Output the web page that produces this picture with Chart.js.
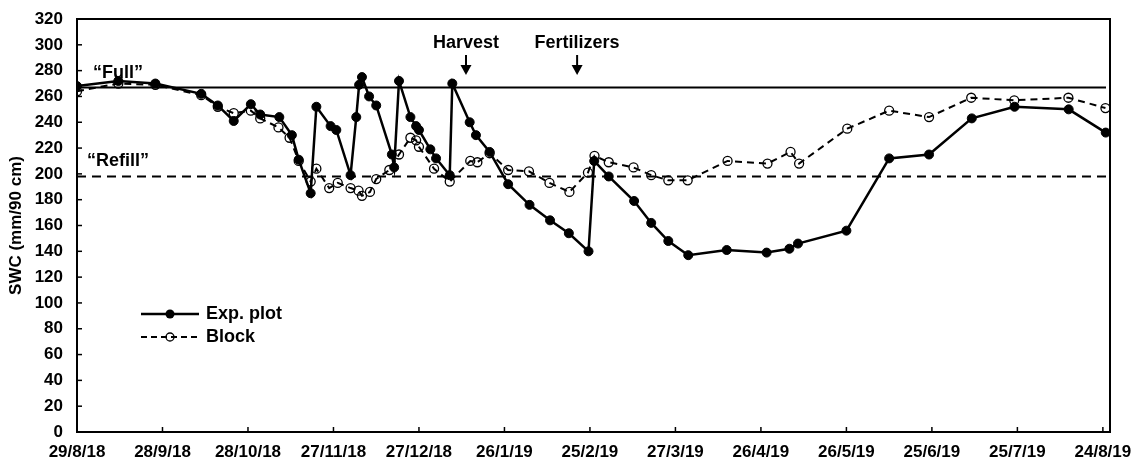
<!DOCTYPE html>
<html>
<head>
<meta charset="utf-8">
<script src="https://cdn.jsdelivr.net/npm/chart.js@4.4.1/dist/chart.umd.min.js"></script>
<style>
  html, body { margin: 0; padding: 0; background: #fff; }
  #wrap { width: 1134px; height: 461px; position: relative; }
</style>
</head>
<body>
<div id="wrap"><canvas id="c" width="1134" height="461"></canvas></div>
<script>
// ---- data (x = days since 29/8/18) ----
const tickDays = [0, 30, 60, 90, 120, 150, 180, 210, 240, 270, 300, 330, 360];
const tickLabels = ['29/8/18', '28/9/18', '28/10/18', '27/11/18', '27/12/18', '26/1/19', '25/2/19',
                    '27/3/19', '26/4/19', '26/5/19', '25/6/19', '25/7/19', '24/8/19'];
const yTicks = [0, 20, 40, 60, 80, 100, 120, 140, 160, 180, 200, 220, 240, 260, 280, 300, 320];

const expDays = [0, 14.5, 27.5, 43.6, 49.4, 55, 61, 64.3, 71, 75.4, 77.8, 82, 84, 89, 91, 96,
                 98, 99, 100, 102.5, 105, 110.5, 111.3, 113, 117, 119, 120, 124, 126, 130.8, 131.7,
                 137.8, 140, 144.8, 151.3, 158.8, 166, 172.6, 179.5, 181.5, 186.6, 195.5, 201.5,
                 207.5, 214.5, 228, 242, 250, 253, 270, 285, 299, 314, 329, 348, 361];
const expSWC  = [268, 272, 270, 262, 253, 241, 254, 246, 244, 230, 211, 185, 252, 237, 234, 199,
                 244, 269, 275, 260, 253, 215, 205, 272, 244, 237, 234, 219, 212, 199, 270,
                 240, 230, 217, 192, 176, 164, 154, 140, 210, 198, 179, 162,
                 148, 137, 141, 139, 142, 146, 156, 212, 215, 243, 252, 250, 232];

const blockDays = [0, 14.5, 27.5, 43.6, 49.4, 55, 61, 64.3, 70.7, 74.6, 77.8, 82, 84, 88.5, 91.5,
                   96, 98.8, 100, 102.8, 105, 109.6, 113, 117, 119, 120, 125.3, 130.8, 138, 140.5,
                   144.8, 151.3, 158.6, 165.8, 172.8, 179.3, 181.6, 186.6, 195.3, 201.5, 207.5,
                   214.3, 228.3, 242.3, 250.4, 253.4, 270.3, 285, 299, 313.8, 328.9, 347.9, 360.9];
const blockSWC  = [264, 270, 269, 261, 252, 247, 249, 243, 236, 228, 210, 194, 204, 189, 193,
                   189, 187, 183, 186, 196, 203, 215, 228, 226, 221, 204, 194, 210, 209,
                   216, 203, 202, 193, 186, 201, 214, 209, 205, 199, 195,
                   195, 210, 208, 217, 208, 235, 249, 244, 259, 257, 259, 251];

const fullLevel = 267;
const refillLevel = 198;
const harvestDay = 136.5;
const fertDay = 175.5;

const FONT = 'Arial, "Liberation Sans", sans-serif';

function pts(xs, ys) { return xs.map((x, i) => ({ x: x, y: ys[i] })); }

const overlay = {
  id: 'overlay',
  afterDatasetsDraw(chart) {
    const ctx = chart.ctx;
    const a = chart.chartArea;
    const xs = chart.scales.x, ys = chart.scales.y;
    ctx.save();
    // reference lines
    ctx.strokeStyle = '#000';
    ctx.lineWidth = 2;
    let yf = ys.getPixelForValue(fullLevel);
    ctx.beginPath(); ctx.moveTo(a.left, yf); ctx.lineTo(a.right - 4, yf); ctx.stroke();
    let yr = ys.getPixelForValue(refillLevel);
    ctx.setLineDash([9, 6]);
    ctx.beginPath(); ctx.moveTo(a.left, yr); ctx.lineTo(a.right - 4, yr); ctx.stroke();
    ctx.setLineDash([]);
    // text labels
    ctx.fillStyle = '#000';
    ctx.font = 'bold 18px ' + FONT;
    ctx.textBaseline = 'bottom';
    ctx.textAlign = 'left';
    ctx.fillText('\u201cFull\u201d', a.left + 16, yf - 5);
    ctx.fillText('\u201cRefill\u201d', a.left + 10, yr - 6);
    // annotations with arrows
    function annot(day, text) {
      const x = xs.getPixelForValue(day);
      ctx.textAlign = 'center';
      ctx.textBaseline = 'middle';
      ctx.fillText(text, x, 43);
      ctx.lineWidth = 2;
      ctx.beginPath(); ctx.moveTo(x, 55); ctx.lineTo(x, 68); ctx.stroke();
      ctx.beginPath(); ctx.moveTo(x - 5.5, 65); ctx.lineTo(x + 5.5, 65); ctx.lineTo(x, 75); ctx.closePath(); ctx.fill();
    }
    annot(harvestDay, 'Harvest');
    annot(fertDay, 'Fertilizers');
    // frame
    ctx.lineWidth = 2;
    ctx.strokeRect(a.left, a.top, a.right - a.left, a.bottom - a.top);
    // inward ticks
    ctx.lineWidth = 1.5;
    yTicks.forEach(v => {
      const y = ys.getPixelForValue(v);
      ctx.beginPath(); ctx.moveTo(a.left, y); ctx.lineTo(a.left + 5, y); ctx.stroke();
    });
    tickDays.forEach(v => {
      const x = xs.getPixelForValue(v);
      ctx.beginPath(); ctx.moveTo(x, a.bottom); ctx.lineTo(x, a.bottom - 5); ctx.stroke();
    });
    // legend
    function legendRow(y, dashed, filled, label) {
      ctx.lineWidth = dashed ? 2 : 2.5;
      ctx.setLineDash(dashed ? [6, 4] : []);
      ctx.beginPath(); ctx.moveTo(141, y); ctx.lineTo(199, y); ctx.stroke();
      ctx.setLineDash([]);
      ctx.beginPath(); ctx.arc(170, y, filled ? 4.5 : 4, 0, Math.PI * 2);
      if (filled) ctx.fill(); else { ctx.lineWidth = 1.3; ctx.stroke(); }
      ctx.textAlign = 'left'; ctx.textBaseline = 'middle';
      ctx.fillText(label, 206, y);
    }
    ctx.font = 'bold 18px ' + FONT;
    legendRow(314, false, true, 'Exp. plot');
    legendRow(337, true, false, 'Block');
    // y title
    ctx.save();
    ctx.translate(16, (a.top + a.bottom) / 2);
    ctx.rotate(-Math.PI / 2);
    ctx.textAlign = 'center'; ctx.textBaseline = 'middle';
    ctx.font = 'bold 17px ' + FONT;
    ctx.fillText('SWC (mm/90 cm)', 0, 0);
    ctx.restore();
    ctx.restore();
  }
};

new Chart(document.getElementById('c'), {
  type: 'line',
  data: {
    datasets: [
      {
        label: 'Exp. plot',
        data: pts(expDays, expSWC),
        borderColor: '#000', backgroundColor: '#000',
        borderWidth: 2.5,
        pointRadius: 4.5, pointBackgroundColor: '#000', pointBorderColor: '#000', pointBorderWidth: 1,
        tension: 0
      },
      {
        label: 'Block',
        data: pts(blockDays, blockSWC),
        borderColor: '#000', backgroundColor: 'rgba(0,0,0,0)',
        borderWidth: 2, borderDash: [7, 5],
        pointRadius: 4.5, pointBackgroundColor: 'rgba(0,0,0,0)', pointBorderColor: '#000', pointBorderWidth: 1.3,
        tension: 0
      }
    ]
  },
  options: {
    responsive: false,
    animation: false,
    devicePixelRatio: 1,
    layout: { padding: { top: 19, right: 24, left: 0, bottom: 0 } },
    plugins: { legend: { display: false }, tooltip: { enabled: false } },
    scales: {
      x: {
        type: 'linear', min: 0, max: 362.5,
        afterBuildTicks: s => { s.ticks = tickDays.map(v => ({ value: v })); },
        afterFit: s => { s.height = 461 - 432; s.paddingLeft = 0; s.paddingRight = 0; },
        grid: { display: false, drawTicks: false },
        border: { display: true, color: '#000', width: 2 },
        ticks: {
          autoSkip: false, maxRotation: 0, padding: 10, color: '#000',
          font: { family: FONT, size: 17, weight: 'bold' },
          callback: (v) => { const i = tickDays.indexOf(v); return i >= 0 ? tickLabels[i] : ''; }
        }
      },
      y: {
        min: 0, max: 320,
        afterBuildTicks: s => { s.ticks = yTicks.map(v => ({ value: v })); },
        afterFit: s => { s.width = 77; s.paddingTop = 0; s.paddingBottom = 0; },
        grid: { display: false, drawTicks: false },
        border: { display: true, color: '#000', width: 2 },
        ticks: {
          padding: 14, color: '#000',
          font: { family: FONT, size: 17, weight: 'bold' }
        }
      }
    }
  },
  plugins: [overlay]
});
</script>
</body>
</html>
